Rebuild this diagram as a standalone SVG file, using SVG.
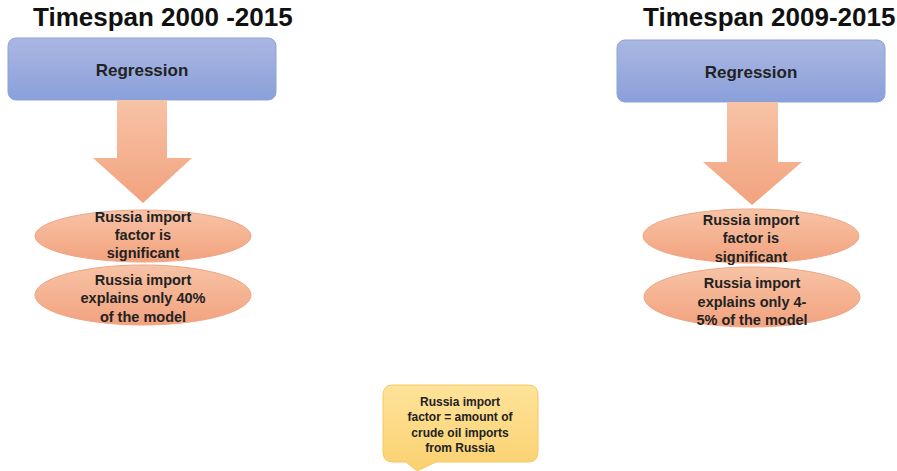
<svg xmlns="http://www.w3.org/2000/svg" width="897" height="471" viewBox="0 0 897 471">
<defs>
<linearGradient id="gBlue" x1="0" y1="0" x2="0" y2="1"><stop offset="0" stop-color="#aab7e2"/><stop offset="1" stop-color="#8aa0da"/></linearGradient>
<linearGradient id="gOrange" x1="0" y1="0" x2="0" y2="1"><stop offset="0" stop-color="#f7c3a6"/><stop offset="1" stop-color="#f2a27e"/></linearGradient>
<linearGradient id="gYellow" x1="0" y1="0" x2="0" y2="1"><stop offset="0" stop-color="#fee39a"/><stop offset="1" stop-color="#fbd170"/></linearGradient>
<style>
.title{font-family:"Liberation Sans",Arial,sans-serif;font-weight:bold;font-size:26px;fill:#111}
.box{fill:url(#gBlue);stroke:#8fa3d8;stroke-width:1}
.btxt{font-family:"Liberation Sans",Arial,sans-serif;font-weight:bold;font-size:17px;fill:#222;text-anchor:middle}
.arrow{fill:url(#gOrange);stroke:none}
.ell{fill:url(#gOrange);stroke:#f0a585;stroke-width:1}
.etxt{font-family:"Liberation Sans",Arial,sans-serif;font-weight:bold;font-size:14.5px;fill:#222;text-anchor:middle}
.call{fill:url(#gYellow);stroke:#f5c860;stroke-width:1}
.ctxt{font-family:"Liberation Sans",Arial,sans-serif;font-weight:bold;font-size:12px;fill:#222;text-anchor:middle}
</style>
</defs>
<rect width="897" height="471" fill="#fff"/>
<text class="title" x="33" y="26">Timespan 2000 -2015</text>
<text class="title" x="643" y="26">Timespan 2009-2015</text>
<g id="regression-left">
<rect class="box" x="8" y="38" width="268" height="62" rx="8"/>
<text class="btxt" x="142" y="76">Regression</text>
</g>
<g id="regression-right">
<rect class="box" x="617" y="40" width="268" height="62" rx="8"/>
<text class="btxt" x="751" y="78">Regression</text>
</g>
<g id="connectors">
<path class="arrow" d="M117,100 H167 V158 H192 L143,203 L93,158 H117 Z"/>
<path class="arrow" d="M727,102 H778 V162 H802 L752,205 L703,162 H727 Z"/>
</g>
<g id="significant-left">
<ellipse class="ell" cx="143" cy="236" rx="108" ry="26"/>
<text class="etxt" x="143" y="222">Russia import</text>
<text class="etxt" x="143" y="240">factor is</text>
<text class="etxt" x="143" y="258">significant</text>
</g>
<g id="explains-left">
<ellipse class="ell" cx="143" cy="295" rx="108" ry="30"/>
<text class="etxt" x="143" y="285">Russia import</text>
<text class="etxt" x="143" y="303">explains only 40%</text>
<text class="etxt" x="143" y="322">of the model</text>
</g>
<g id="significant-right">
<ellipse class="ell" cx="751" cy="236" rx="108" ry="27"/>
<text class="etxt" x="751" y="225">Russia import</text>
<text class="etxt" x="751" y="243">factor is</text>
<text class="etxt" x="751" y="262">significant</text>
</g>
<g id="explains-right">
<ellipse class="ell" cx="752" cy="297" rx="108" ry="30"/>
<text class="etxt" x="752" y="288">Russia import</text>
<text class="etxt" x="752" y="307">explains only 4-</text>
<text class="etxt" x="752" y="325">5% of the model</text>
</g>
<g id="note">
<path class="call" d="M393,385 H528 Q538,385 538,395 V452 Q538,462 528,462 H436 L417,471 L406,462 H393 Q383,462 383,452 V395 Q383,385 393,385 Z"/>
<text class="ctxt" x="460" y="406">Russia import</text>
<text class="ctxt" x="460" y="421">factor = amount of</text>
<text class="ctxt" x="460" y="437">crude oil imports</text>
<text class="ctxt" x="460" y="452">from Russia</text>
</g>
</svg>
